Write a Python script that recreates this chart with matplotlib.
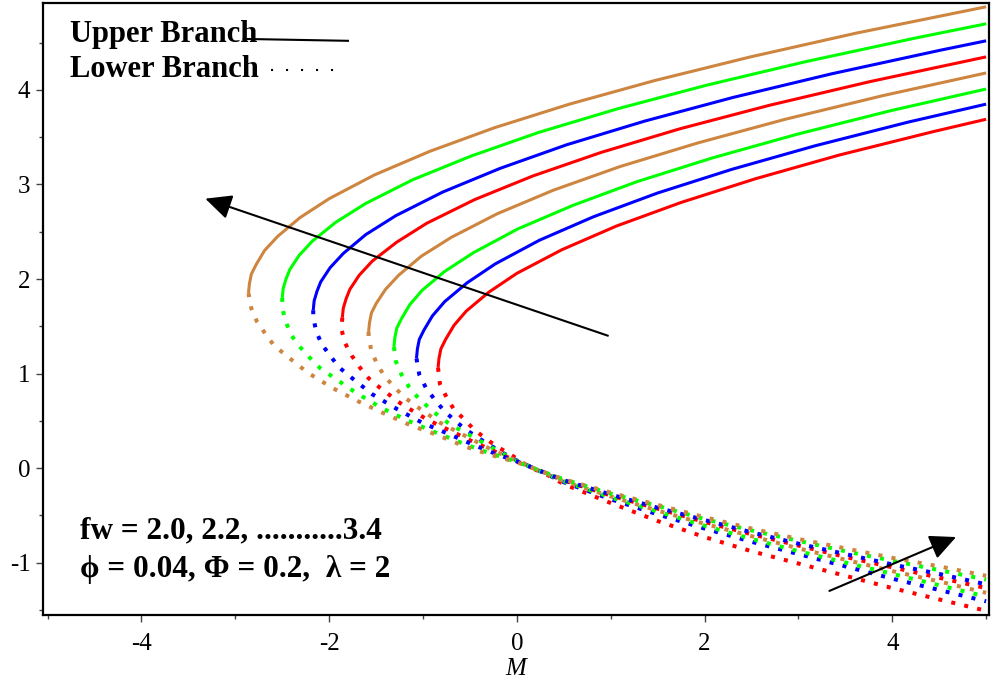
import matplotlib
matplotlib.use("Agg")
import matplotlib.pyplot as plt

plt.rcParams['font.family'] = ['Liberation Serif', 'DejaVu Serif']
plt.rcParams['axes.unicode_minus'] = False

# fw values, innermost curve (2.0) to outermost (3.4)
fw = [2.0, 2.2, 2.4, 2.6, 2.8, 3.0, 3.2, 3.4]
colors = ['#FF0000', '#0000FF', '#00FF00', '#CD853F',
          '#FF0000', '#0000FF', '#00FF00', '#CD853F']

# upper branches (solid), turning point first
up_x_20 = [-0.84, -0.83, -0.81, -0.76, -0.67, -0.54, -0.30, 0.00, 0.48, 1.06, 1.75, 2.54, 3.43, 4.44, 5.00]
up_y_20 = [1.06, 1.16, 1.26, 1.36, 1.51, 1.66, 1.86, 2.06, 2.31, 2.56, 2.81, 3.06, 3.31, 3.56, 3.69]
up_x_22 = [-1.07, -1.06, -1.04, -0.99, -0.90, -0.77, -0.53, -0.23, 0.24, 0.82, 1.50, 2.29, 3.18, 4.17, 5.00]
up_y_22 = [1.16, 1.26, 1.36, 1.46, 1.61, 1.76, 1.96, 2.16, 2.41, 2.66, 2.91, 3.16, 3.41, 3.66, 3.85]
up_x_24 = [-1.31, -1.30, -1.28, -1.23, -1.14, -1.01, -0.77, -0.46, 0.01, 0.60, 1.28, 2.08, 2.98, 3.98, 5.00]
up_y_24 = [1.28, 1.38, 1.48, 1.58, 1.73, 1.88, 2.08, 2.28, 2.53, 2.78, 3.03, 3.28, 3.53, 3.78, 4.01]
up_x_26 = [-1.58, -1.57, -1.55, -1.50, -1.40, -1.26, -1.02, -0.70, -0.21, 0.39, 1.10, 1.93, 2.86, 3.90, 5.00]
up_y_26 = [1.44, 1.54, 1.64, 1.74, 1.89, 2.04, 2.24, 2.44, 2.69, 2.94, 3.19, 3.44, 3.69, 3.94, 4.18]
up_x_28 = [-1.86, -1.85, -1.82, -1.78, -1.68, -1.54, -1.28, -0.96, -0.45, 0.17, 0.90, 1.74, 2.70, 3.77, 5.00]
up_y_28 = [1.59, 1.69, 1.79, 1.89, 2.04, 2.19, 2.39, 2.59, 2.84, 3.09, 3.34, 3.59, 3.84, 4.09, 4.35]
up_x_30 = [-2.17, -2.16, -2.13, -2.09, -1.99, -1.85, -1.61, -1.29, -0.79, -0.18, 0.53, 1.36, 2.30, 3.35, 4.51, 5.00]
up_y_30 = [1.67, 1.77, 1.87, 1.97, 2.12, 2.27, 2.47, 2.67, 2.92, 3.17, 3.42, 3.67, 3.92, 4.17, 4.42, 4.52]
up_x_32 = [-2.50, -2.49, -2.46, -2.42, -2.32, -2.18, -1.93, -1.61, -1.11, -0.49, 0.23, 1.07, 2.02, 3.08, 4.25, 5.00]
up_y_32 = [1.80, 1.90, 2.00, 2.10, 2.25, 2.40, 2.60, 2.80, 3.05, 3.30, 3.55, 3.80, 4.05, 4.30, 4.55, 4.70]
up_x_34 = [-2.86, -2.85, -2.83, -2.78, -2.69, -2.55, -2.31, -2.00, -1.52, -0.93, -0.24, 0.56, 1.47, 2.49, 3.61, 5.00]
up_y_34 = [1.85, 1.95, 2.05, 2.15, 2.30, 2.45, 2.65, 2.85, 3.10, 3.35, 3.60, 3.85, 4.10, 4.35, 4.60, 4.88]

# lower branches (dotted), turning point first; x > 0 part shares lo_x_right
lo_x_right = [0.5, 1.0, 1.5, 2.0, 2.5, 3.0, 3.5, 4.0, 4.5, 5.0]
lo_x_20 = [-0.84, -0.82, -0.75, -0.67, -0.56, -0.46, -0.33, -0.21, -0.075, 0.06, 0.18, 0.32]
lo_y_20 = [1.06, 0.89, 0.75, 0.62, 0.515, 0.41, 0.31, 0.225, 0.15, 0.056, -0.01, -0.07,
           -0.17, -0.37, -0.56, -0.73, -0.88, -1.01, -1.14, -1.27, -1.39, -1.51]
lo_x_22 = [-1.07, -1.04, -0.97, -0.88, -0.78, -0.67, -0.55, -0.35, -0.15, 0.0]
lo_y_22 = [1.16, 0.99, 0.85, 0.73, 0.61, 0.51, 0.41, 0.28, 0.16, 0.08,
           -0.15, -0.33, -0.49, -0.64, -0.78, -0.91, -1.04, -1.17, -1.29, -1.41]
lo_x_24 = [-1.31, -1.29, -1.23, -1.15, -1.05, -0.94, -0.82, -0.70, -0.45, -0.22, 0.0]
lo_y_24 = [1.28, 1.13, 0.99, 0.86, 0.74, 0.64, 0.54, 0.455, 0.32, 0.19, 0.075,
           -0.14, -0.31, -0.46, -0.61, -0.75, -0.88, -1.00, -1.12, -1.24, -1.36]
lo_x_26 = [-1.58, -1.58, -1.55, -1.49, -1.41, -1.31, -1.20, -1.08, -0.82, -0.55, -0.28, 0.0]
lo_y_26 = [1.44, 1.38, 1.24, 1.10, 0.97, 0.86, 0.75, 0.66, 0.48, 0.34, 0.20, 0.075,
           -0.14, -0.30, -0.45, -0.59, -0.72, -0.85, -0.97, -1.09, -1.20, -1.32]
lo_x_28 = [-1.86, -1.87, -1.83, -1.76, -1.67, -1.58, -1.46, -1.22, -0.95, -0.70, -0.45, -0.20, 0.0]
lo_y_28 = [1.59, 1.47, 1.32, 1.19, 1.06, 0.95, 0.85, 0.67, 0.51, 0.39, 0.27, 0.16, 0.07,
           -0.13, -0.29, -0.43, -0.57, -0.70, -0.82, -0.94, -1.05, -1.16, -1.27]
lo_x_30 = [-2.17, -2.17, -2.14, -2.08, -1.99, -1.90, -1.78, -1.54, -1.27, -1.01, -0.75, -0.45, -0.20, 0.0]
lo_y_30 = [1.67, 1.60, 1.45, 1.31, 1.19, 1.07, 0.97, 0.78, 0.62, 0.48, 0.37, 0.24, 0.14, 0.07,
           -0.13, -0.28, -0.42, -0.55, -0.68, -0.80, -0.91, -1.02, -1.12, -1.23]
lo_x_32 = [-2.50, -2.50, -2.46, -2.40, -2.31, -2.21, -2.10, -1.97, -1.72, -1.45, -1.18, -0.90, -0.60, -0.30, 0.0]
lo_y_32 = [1.80, 1.69, 1.54, 1.40, 1.28, 1.17, 1.06, 0.97, 0.80, 0.64, 0.51, 0.39, 0.27, 0.16, 0.065,
           -0.12, -0.27, -0.40, -0.54, -0.66, -0.77, -0.88, -0.98, -1.08, -1.18]
lo_x_34 = [-2.86, -2.83, -2.77, -2.68, -2.59, -2.47, -2.23, -1.97, -1.70, -1.42, -1.14, -0.85, -0.56, -0.28, 0.0]
lo_y_34 = [1.85, 1.69, 1.55, 1.42, 1.30, 1.20, 1.01, 0.85, 0.71, 0.58, 0.455, 0.35, 0.23, 0.14, 0.06,
           -0.12, -0.26, -0.39, -0.52, -0.64, -0.75, -0.85, -0.95, -1.04, -1.14]

x_ticks = [-4, -2, 0, 2, 4]
y_ticks = [-1, 0, 1, 2, 3, 4]

upper = [(up_x_20, up_y_20), (up_x_22, up_y_22), (up_x_24, up_y_24), (up_x_26, up_y_26),
         (up_x_28, up_y_28), (up_x_30, up_y_30), (up_x_32, up_y_32), (up_x_34, up_y_34)]
lower = [(lo_x_20, lo_y_20), (lo_x_22, lo_y_22), (lo_x_24, lo_y_24), (lo_x_26, lo_y_26),
         (lo_x_28, lo_y_28), (lo_x_30, lo_y_30), (lo_x_32, lo_y_32), (lo_x_34, lo_y_34)]

fig = plt.figure(figsize=(9.92, 6.82), dpi=100)
ax = fig.add_axes([0.0433, 0.0982, 0.9536, 0.8974])

for (ux, uy), (lx, ly), c in zip(upper, lower, colors):
    ax.plot(ux, uy, color=c, lw=2.2, solid_capstyle='butt', solid_joinstyle='round')
    ax.plot(lx + lo_x_right, ly, color=c, lw=2.9, linestyle=(0, (1, 2.3)), dash_capstyle='butt')

# arrows
arrow_kw = dict(arrowstyle='-|>,head_length=0.8,head_width=0.38', color='black',
                lw=1.5, mutation_scale=20, shrinkA=0, shrinkB=0)
ax.annotate('', xy=(-3.32, 2.85), xytext=(0.97, 1.40), arrowprops=arrow_kw)
ax.annotate('', xy=(4.68, -0.73), xytext=(3.33, -1.30), arrowprops=arrow_kw)

# legend-like labels
ax.text(-4.76, 4.51, 'Upper Branch', fontsize=22, fontweight='bold', va='baseline')
ax.text(-4.76, 4.14, 'Lower Branch', fontsize=22, fontweight='bold', va='baseline')
ax.plot([-2.91, -1.80], [4.54, 4.52], color='black', lw=1.5)
ax.plot([-2.62, -1.86], [4.21, 4.21], color='black', lw=1.5, linestyle=(0, (1, 6.2)))

ax.text(-4.65, -0.74, 'fw = 2.0, 2.2, ...........3.4', fontsize=22.5, fontweight='bold', va='baseline')
ax.text(-4.65, -1.15, '\u03d5 = 0.04, \u03a6 = 0.2,  \u03bb = 2', fontsize=22.5, fontweight='bold',
        va='baseline')

ax.set_xlim(-5.05, 5.03)
ax.set_ylim(-1.555, 4.92)
ax.set_xticks(x_ticks)
ax.set_yticks(y_ticks)
ax.set_xticks([-5, -3, -1, 1, 3, 5], minor=True)
ax.set_yticks([-1.5, -0.5, 0.5, 1.5, 2.5, 3.5, 4.5], minor=True)
ax.tick_params(which='major', direction='out', length=5, width=1, color='#444444',
               labelsize=18, pad=4)
ax.tick_params(which='minor', direction='out', length=3, width=1, color='#444444')
ax.tick_params(axis='x', which='major', pad=8)
for s in ax.spines.values():
    s.set_linewidth(1.6)
ax.set_xlabel('M', fontsize=18, fontstyle='italic', labelpad=2)

fig.savefig('out.png', dpi=100)
